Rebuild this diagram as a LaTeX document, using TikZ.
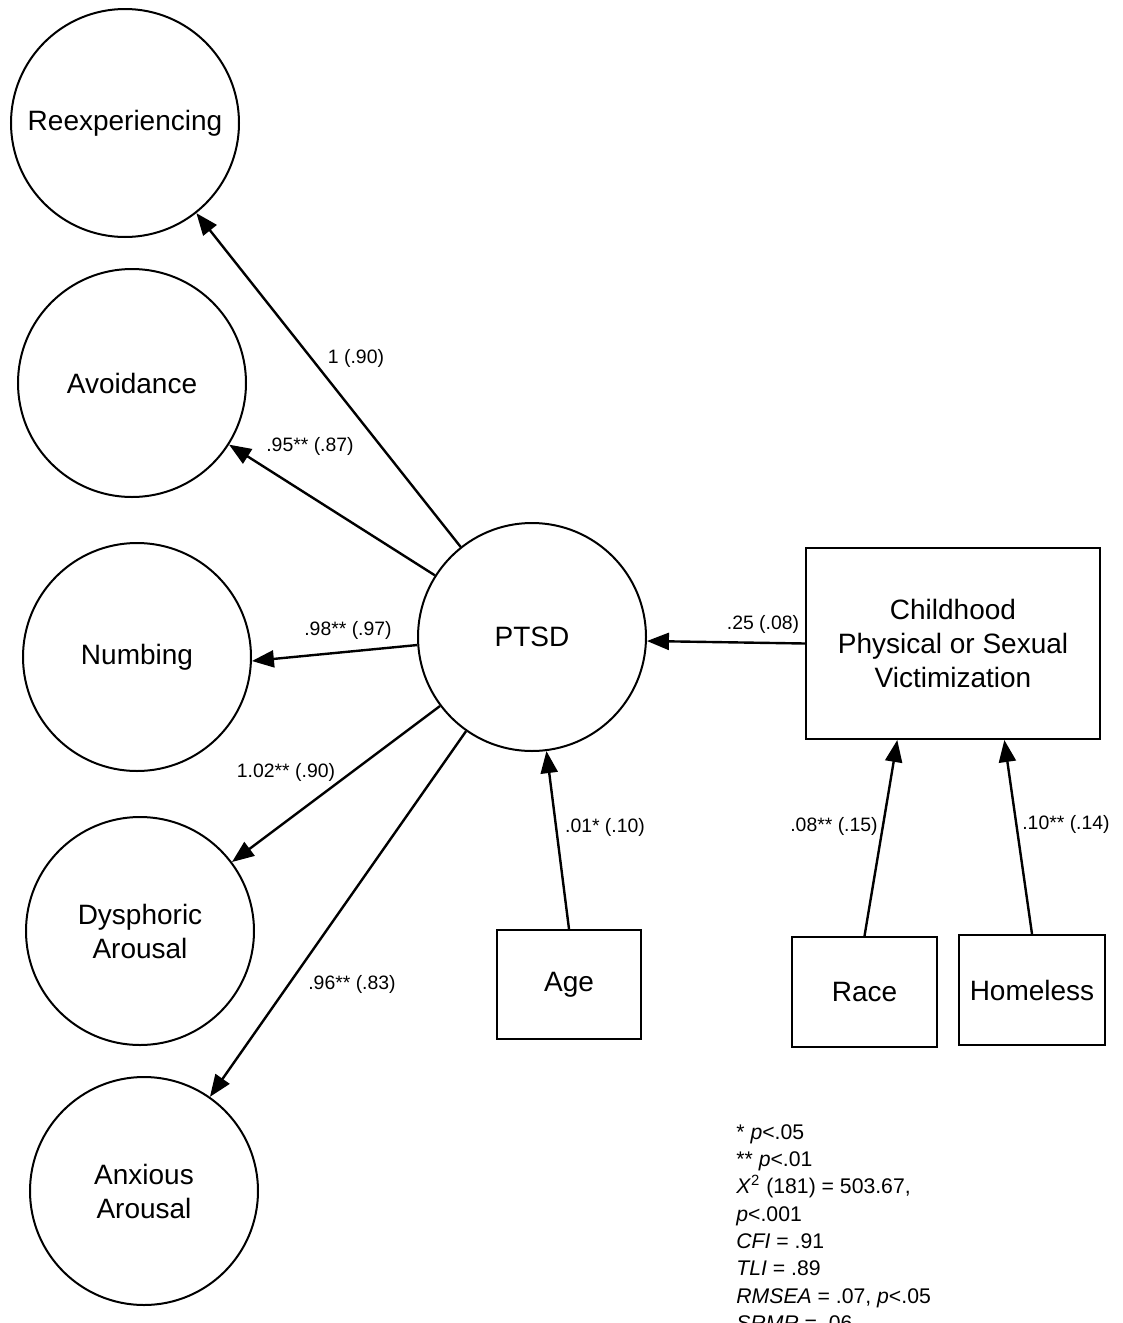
\documentclass[tikz,border=0pt]{standalone}
\usepackage{fontspec}
\setmainfont{Liberation Sans}
\usetikzlibrary{arrows.meta}
\begin{document}
\begin{tikzpicture}[x=0.5pt,y=-0.5pt,
  latent/.style={circle,draw,line width=1pt,minimum size=114pt,inner sep=0pt,
    align=center,font=\fontsize{14}{17}\selectfont},
  observed/.style={rectangle,draw,line width=1pt,inner sep=0pt,
    align=center,font=\fontsize{14}{17}\selectfont},
  edgearrow/.style={line width=1.2pt,-{Triangle[length=11pt,width=8.5pt]}},
  coef/.style={font=\fontsize{9.7}{11}\selectfont,inner sep=0pt}]
\useasboundingbox (0,0) rectangle (1123,1323);
\clip (0,0) rectangle (1123,1323);

% latent factors
\node[latent] (reexp) at (125,123) {Reexperiencing};
\node[latent] (avoid) at (132,383) {Avoidance};
\node[latent] (numb)  at (137,657) {Numbing};
\node[latent] (dysph) at (140,931) {Dysphoric\\Arousal};
\node[latent] (anx)   at (144,1191) {Anxious\\Arousal};
\node[latent] (ptsd)  at (532,637) {PTSD};

% observed variables
\node[observed,minimum width=147pt,minimum height=95.5pt] (child) at (953,643.5)
  {Childhood\\Physical or Sexual\\Victimization};
\node[observed,minimum width=72pt,minimum height=54.5pt] (age) at (569,984.5) {Age};
\node[observed,minimum width=72.5pt,minimum height=55pt] (race) at (864.5,992) {Race};
\node[observed,minimum width=73pt,minimum height=55pt] (homeless) at (1032,990) {Homeless};

% loadings
\draw[edgearrow] (ptsd) -- (reexp);
\draw[edgearrow] (ptsd) -- (avoid);
\draw[edgearrow] (ptsd.184) -- (numb.-2);
\draw[edgearrow] (ptsd) -- (dysph);
\draw[edgearrow] (ptsd) -- (anx);

% structural paths
\draw[edgearrow] (child.west) -- (ptsd.-2);
\draw[edgearrow] (age.north) -- (ptsd);
\draw[edgearrow] (race.north) -- (child.240.5);
\draw[edgearrow] (homeless.north) -- (child.298);

% coefficients
\node[coef] (c1) at (356,358) {1 (.90)};
\node[coef] (c2) at (310,446) {.95** (.87)};
\node[coef] (c3) at (348,630) {.98** (.97)};
\node[coef] (c4) at (286,772) {1.02** (.90)};
\node[coef] (c5) at (352,984) {.96** (.83)};
\node[coef] (c6) at (763,624) {.25 (.08)};
\node[coef] (c7) at (605,827) {.01* (.10)};
\node[coef] (c8) at (834,826) {.08** (.15)};
\node[coef] (c9) at (1066,824) {.10** (.14)};

% fit statistics
\node[anchor=north west,inner sep=0pt,align=left,
  font=\fontsize{10.6}{13.65}\selectfont] (fit) at (736,1124)
  {* \textit{p}<.05\\
   ** \textit{p}<.01\\
   \textit{X}\textsuperscript{2} (181) = 503.67,\\
   \textit{p}<.001\\
   \textit{CFI} = .91\\
   \textit{TLI} = .89\\
   \textit{RMSEA} = .07, \textit{p}<.05\\
   \textit{SRMR} = .06};
\end{tikzpicture}
\end{document}
